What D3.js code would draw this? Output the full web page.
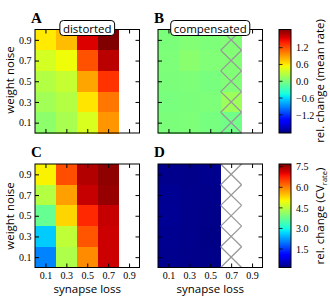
<!DOCTYPE html>
<html>
<head>
<meta charset="utf-8">
<script src="https://cdn.jsdelivr.net/npm/d3@7"></script>
<style>
  body { margin: 0; background: #fff; }
  svg { display: block; }
  .tick text { font-family: 'Liberation Serif', serif; font-size: 10px; }
</style>
</head>
<body>
<svg id="chart" width="330" height="297"></svg>
<script>
// grid axes
const synapseLoss = [0.1, 0.3, 0.5, 0.7, 0.9]
const weightNoise = [0.9, 0.7, 0.5, 0.3, 0.1] // rows, top to bottom

// relative change of mean rate, rows follow weightNoise, columns follow synapseLoss
const rateDistorted = [
  [0.6, 0.78, 1.55, 1.85, null],
  [0.4, 0.52, 1.2, 1.66, null],
  [0.25, 0.33, 0.87, 1.32, null],
  [0.17, 0.25, 0.62, 1.05, null],
  [0.08, 0.2, 0.42, 0.93, null],
]
const rateCompensated = [
  [0.0, 0.03, 0.01, 0.02, null],
  [0.01, 0.06, 0.02, 0.03, null],
  [0.0, 0.01, -0.01, 0.02, null],
  [-0.01, 0.0, 0.01, 0.15, null],
  [0.0, 0.01, -0.02, -0.05, null],
]
// relative change of CV of rate
const cvDistorted = [
  [5.08, 6.4, 7.37, 7.6, null],
  [4.45, 5.75, 7.24, 7.55, null],
  [3.73, 5.32, 6.7, 7.24, null],
  [2.6, 4.55, 6.35, 7.2, null],
  [2.06, 4.38, 5.9, 7.2, null],
]
const cvCompensated = [
  [0.24, 0.22, 0.25, null, null],
  [0.27, 0.23, 0.22, null, null],
  [0.29, 0.24, 0.21, null, null],
  [0.26, 0.23, 0.2, null, null],
  [0.25, 0.22, 0.21, null, null],
]
const hatchedLoss = [0.7] // columns marked as not compensable

const rateTicks = [-1.2, -0.6, 0.0, 0.6, 1.2]
const cvTicks = [1.5, 3.0, 4.5, 6.0, 7.5]
const rateRange = [-1.85, 1.85]
const cvRange = [0.15, 7.7]

// matplotlib "jet"
const jetR = [[0, 0], [0.35, 0], [0.66, 1], [0.89, 1], [1, 0.5]]
const jetG = [[0, 0], [0.125, 0], [0.375, 1], [0.64, 1], [0.91, 0], [1, 0]]
const jetB = [[0, 0.5], [0.11, 1], [0.34, 1], [0.65, 0], [1, 0]]
function seg(pts, t) {
  for (let i = 1; i < pts.length; i++) {
    if (t <= pts[i][0]) {
      const [x0, y0] = pts[i - 1], [x1, y1] = pts[i]
      return y0 + (y1 - y0) * (t - x0) / (x1 - x0)
    }
  }
  return pts[pts.length - 1][1]
}
const jet = (t) => {
  t = Math.max(0, Math.min(1, t))
  return d3.rgb(seg(jetR, t) * 255, seg(jetG, t) * 255, seg(jetB, t) * 255).formatHex()
}

const svg = d3.select('#chart')
const W = 104.5, H = 103.5
const rateColor = d3.scaleSequential(jet).domain(rateRange)
const cvColor = d3.scaleSequential(jet).domain(cvRange)

const panels = [
  { letter: 'A', title: 'distorted', values: rateDistorted, color: rateColor, x0: 35, y0: 29.5, hatch: false, xl: false, yl: true },
  { letter: 'B', title: 'compensated', values: rateCompensated, color: rateColor, x0: 158, y0: 29.5, hatch: true, xl: false, yl: false },
  { letter: 'C', title: null, values: cvDistorted, color: cvColor, x0: 35, y0: 164, hatch: false, xl: true, yl: true },
  { letter: 'D', title: null, values: cvCompensated, color: cvColor, x0: 158, y0: 164, hatch: true, xl: true, yl: false },
]

panels.forEach((p) => {
  const x = d3.scaleLinear().domain([0, 1]).range([p.x0, p.x0 + W])
  const y = d3.scaleLinear().domain([0, 1]).range([p.y0 + H, p.y0])
  const g = svg.append('g')
  const cells = []
  weightNoise.forEach((wn, i) => {
    synapseLoss.forEach((sl, j) => {
      cells.push({ wn, sl, v: p.values[i][j] })
    })
  })
  g.selectAll('rect.cell')
    .data(cells.filter((d) => d.v != null))
    .join('rect')
    .attr('class', 'cell')
    .attr('shape-rendering', 'crispEdges')
    .attr('x', (d) => x(d.sl - 0.1))
    .attr('y', (d) => y(d.wn + 0.1))
    .attr('width', (d) => x(d.sl + 0.1) - x(d.sl - 0.1) + 0.5)
    .attr('height', (d) => y(d.wn - 0.1) - y(d.wn + 0.1) + 0.5)
    .attr('fill', (d) => p.color(d.v))

  if (p.hatch) {
    const hc = cells.filter((d) => hatchedLoss.includes(d.sl))
    const hg = g.append('g').attr('stroke', '#999').attr('stroke-width', 1.3).attr('fill', 'none')
    hg.selectAll('path')
      .data(hc)
      .join('path')
      .attr('d', (d) => {
        const xl = x(d.sl - 0.1), xr = x(d.sl + 0.1)
        const yt = y(d.wn + 0.1), yb = y(d.wn - 0.1)
        return `M${xl},${yt}L${xr},${yb}M${xr},${yt}L${xl},${yb}`
      })
  }

  // inward ticks on all four sides
  const mk = (axis, tr, labels) => {
    const a = g.append('g').attr('transform', tr)
      .call(axis.tickValues(synapseLoss).tickSize(-4).tickPadding(labels ? 4 : 0)
        .tickFormat(labels ? d3.format('.1f') : () => ''))
    a.select('.domain').remove()
    a.selectAll('.tick line').attr('stroke', '#000')
    return a
  }
  mk(d3.axisBottom(x), `translate(0,${p.y0 + H})`, p.xl)
  mk(d3.axisTop(x), `translate(0,${p.y0})`, false)
  const yl = mk(d3.axisLeft(y), `translate(${p.x0},0)`, p.yl)
  yl.selectAll('.tick text').attr('x', -3.5)
  mk(d3.axisRight(y), `translate(${p.x0 + W},0)`, false)

  g.append('rect')
    .attr('x', p.x0).attr('y', p.y0).attr('width', W).attr('height', H)
    .attr('fill', 'none').attr('stroke', '#000').attr('stroke-width', 1)

  g.append('text')
    .attr('x', p.x0 - 4).attr('y', p.y0 - 7)
    .attr('font-family', 'Liberation Serif').attr('font-weight', 'bold').attr('font-size', 15)
    .text(p.letter)

  if (p.title) {
    const box = g.append('rect')
    const t = g.append('text')
      .attr('x', p.x0 + W / 2).attr('y', p.y0 + 3)
      .attr('text-anchor', 'middle')
      .attr('font-family', 'Open Sans').attr('font-size', 11.5)
      .text(p.title)
    const bb = t.node().getBBox()
    box.attr('x', bb.x - 3).attr('y', bb.y)
      .attr('width', bb.width + 6).attr('height', bb.height)
      .attr('rx', 3.5)
      .attr('fill', '#fff').attr('stroke', '#000').attr('stroke-width', 1)
  }
})

// axis labels
;[80, 216].forEach((cy) => {
  svg.append('text')
    .attr('transform', `translate(14,${cy}) rotate(-90)`)
    .attr('text-anchor', 'middle')
    .attr('font-family', 'Open Sans').attr('font-size', 11.5)
    .text('weight noise')
})
;[35, 158].forEach((x0) => {
  svg.append('text')
    .attr('x', x0 + W / 2).attr('y', 293)
    .attr('text-anchor', 'middle')
    .attr('font-family', 'Open Sans').attr('font-size', 11.5)
    .text('synapse loss')
})

// colorbars
const defs = svg.append('defs')
const colorbars = [
  { id: 'cb1', range: rateRange, ticks: rateTicks, y0: 29.5 },
  { id: 'cb2', range: cvRange, ticks: cvTicks, y0: 164 },
]
colorbars.forEach((c) => {
  const grad = defs.append('linearGradient').attr('id', c.id)
    .attr('x1', 0).attr('y1', 1).attr('x2', 0).attr('y2', 0)
  d3.range(0, 1.0001, 0.02).forEach((t) => {
    grad.append('stop').attr('offset', t).attr('stop-color', jet(t))
  })
  const cy = d3.scaleLinear().domain(c.range).range([c.y0 + H, c.y0])
  svg.append('rect')
    .attr('x', 279).attr('y', c.y0).attr('width', 12).attr('height', H)
    .attr('fill', `url(#${c.id})`).attr('stroke', '#000').attr('stroke-width', 1)
  const a = svg.append('g').attr('transform', 'translate(291,0)')
    .call(d3.axisRight(cy).tickValues(c.ticks).tickSize(0).tickPadding(5).tickFormat(d3.format('.1f')))
  a.select('.domain').remove()
  svg.append('g').selectAll('line').data(c.ticks).join('line')
    .attr('x1', 279).attr('x2', 282.5)
    .attr('y1', (d) => cy(d)).attr('y2', (d) => cy(d))
    .attr('stroke', '#000').attr('stroke-width', 0.8)
})

svg.append('text')
  .attr('transform', 'translate(324,81) rotate(-90)')
  .attr('text-anchor', 'middle')
  .attr('font-family', 'Open Sans').attr('font-size', 11.5)
  .text('rel. change (mean rate)')
const cvl = svg.append('text')
  .attr('transform', 'translate(324,216) rotate(-90)')
  .attr('text-anchor', 'middle')
  .attr('font-family', 'Open Sans').attr('font-size', 11.5)
cvl.append('tspan').text('rel. change (CV')
cvl.append('tspan').attr('font-size', 7.5).attr('dy', 3).text('rate')
cvl.append('tspan').attr('dy', -3).text(')')
</script>
</body>
</html>
